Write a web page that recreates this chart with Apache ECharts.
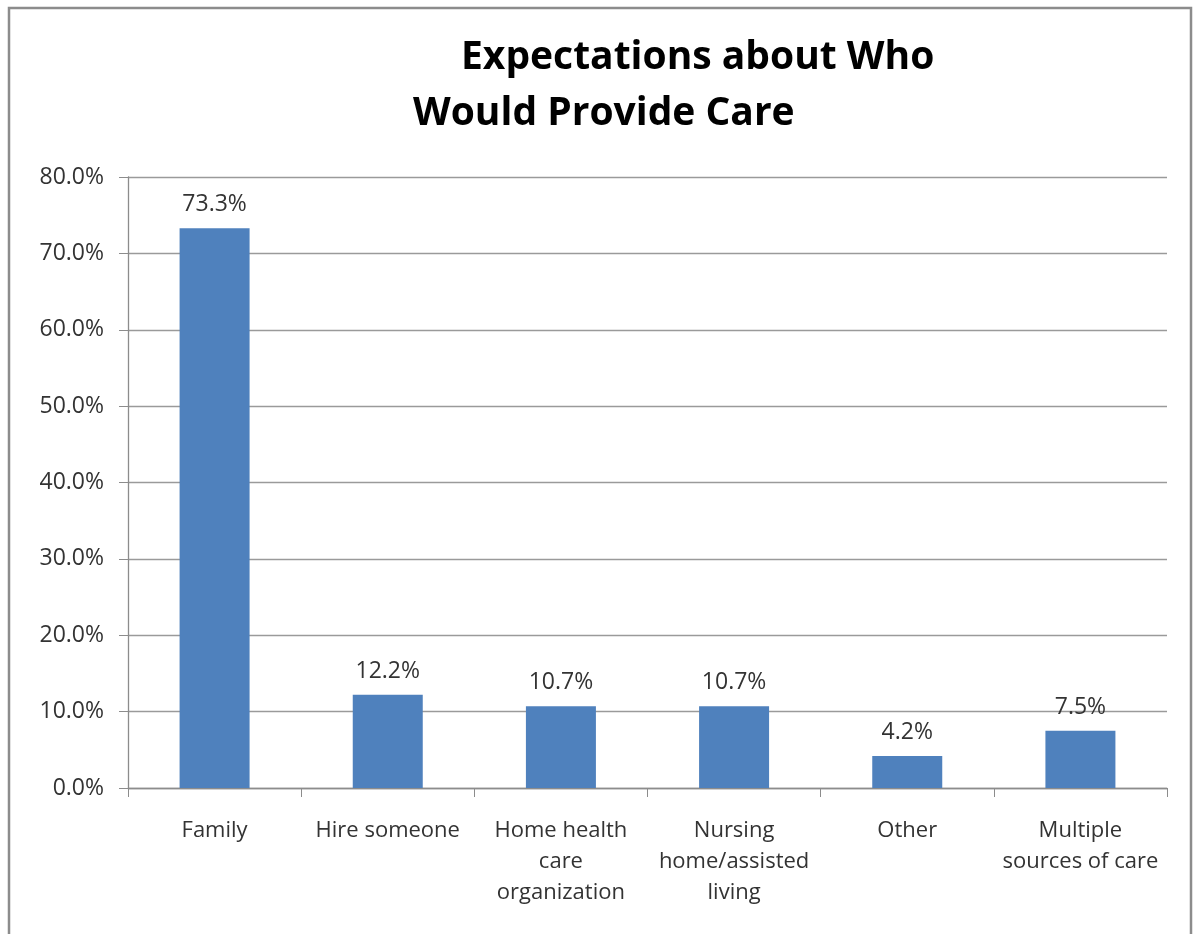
<!DOCTYPE html>
<html style='height: 100%'>
<head>
    <meta charset='utf-8'>
</head>
<body style='height: 100%; margin: 0; background: #fff'>
    <div id='container' style='width: 1196px; height: 934px'></div>
    <script type='text/javascript' src='https://cdn.jsdelivr.net/npm/echarts@6/dist/echarts.min.js'></script>
    <script type="text/javascript">

// data
var categories = ['Family', 'Hire someone', 'Home health\ncare\norganization', 'Nursing\nhome/assisted\nliving', 'Other', 'Multiple\nsources of care'];
var shares = [73.3, 12.2, 10.7, 10.7, 4.2, 7.5];
var yTicks = [0, 80, 10]; // min, max, step

var dom = document.getElementById("container");
var myChart = echarts.init(dom);
var font = 'Open Sans';

var option = {
    animation: false,
    backgroundColor: '#fff',
    title: [{
        text: 'Expectations about Who',
        left: 456, top: 33,
        textStyle: { fontFamily: font, fontSize: 39, fontWeight: 'bold', color: '#000' }
    }, {
        text: 'Would Provide Care',
        left: 408, top: 89,
        textStyle: { fontFamily: font, fontSize: 39, fontWeight: 'bold', color: '#000' }
    }],
    graphic: [{
        type: 'rect',
        shape: { x: 9, y: 8, width: 1182, height: 1000 },
        style: { fill: 'none', stroke: '#8c8c8c', lineWidth: 2.5 },
        silent: true
    }],
    grid: { left: 128, right: 29, top: 177, bottom: 146 },
    xAxis: {
        type: 'category',
        data: categories,
        axisLine: { lineStyle: { color: '#8c8c8c', width: 1.3 } },
        axisTick: { show: true, length: 9, lineStyle: { color: '#8c8c8c' } },
        axisLabel: {
            interval: 0, margin: 27, color: '#333',
            fontFamily: font, fontSize: 22, lineHeight: 31
        }
    },
    yAxis: {
        type: 'value',
        min: yTicks[0], max: yTicks[1], interval: yTicks[2],
        axisLine: { show: true, lineStyle: { color: '#8c8c8c', width: 1.3 } },
        axisTick: { show: true, length: 9, lineStyle: { color: '#8c8c8c' } },
        splitLine: { lineStyle: { color: '#9a9a9a', width: 1.3 } },
        axisLabel: {
            margin: 24, color: '#333', fontFamily: font, fontSize: 23,
            formatter: function (v) { return v.toFixed(1) + '%'; }
        }
    },
    series: [{
        type: 'bar',
        data: shares,
        barWidth: 70,
        itemStyle: { color: '#4f81bd' },
        label: {
            show: true, position: 'top', distance: 12,
            color: '#333', fontFamily: font, fontSize: 23,
            formatter: function (p) { return p.value.toFixed(1) + '%'; }
        }
    }]
};

myChart.setOption(option);
    </script>
</body>
</html>
